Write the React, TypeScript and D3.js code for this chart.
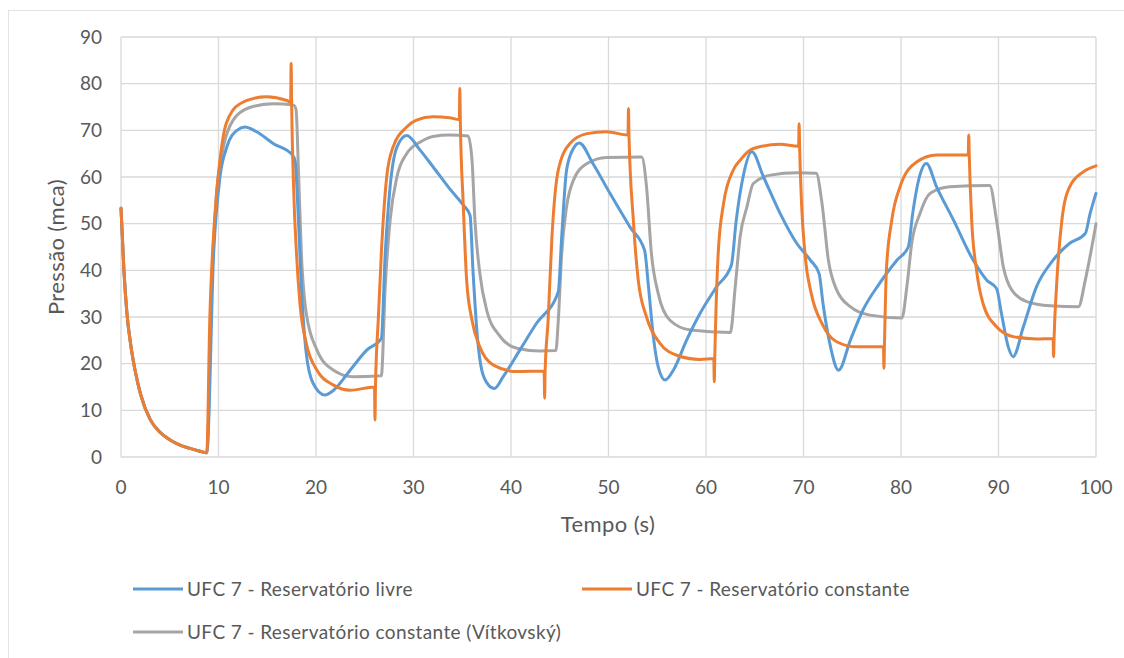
import * as d3 from 'd3';

// shared initial decay (all three series coincide until ~8.8 s)
const decayT = [0, 0.3, 0.6, 1.0, 1.5, 2, 3, 4, 5, 6, 7, 8, 8.8];
const decayP = [53.3, 40, 31, 24, 18, 13.5, 8, 5.3, 3.7, 2.6, 1.9, 1.3, 0.9];

const livreT = [9.5, 10.15, 10.85, 11.9, 12.7, 13.9, 15.6, 17.6, 17.85, 18.2, 18.5, 19.0, 19.7, 20.9, 21.8, 23.5, 25.2, 26.7, 27.1, 27.6, 28.3, 29.3, 30.7, 32, 33.7, 35.1, 35.8, 36.1, 36.55, 37, 37.7, 38.3, 39.2, 40.9, 42.6, 44.85, 45.2, 45.7, 46.4, 47, 48.4, 50.15, 52.2, 53.7, 54.1, 54.6, 55.1, 55.8, 56.65, 58, 59.4, 61.1, 62.6, 63.1, 63.8, 64.7, 65.9, 67.6, 69.3, 70.7, 71.6, 72.0, 72.7, 73.6, 74.8, 76.1, 77.8, 79.6, 80.75, 81.2, 81.8, 82.6, 83.65, 85.4, 87.4, 88.8, 89.8, 90.3, 91.0, 91.5, 92.55, 93.9, 95.6, 97.3, 98.9, 99.4, 100];
const livreP = [43.6, 60, 66.4, 70, 70.7, 69.7, 67.2, 64.7, 63.5, 50.7, 36.5, 22.2, 15.8, 13.3, 14.3, 18.6, 22.9, 25.4, 43.6, 57.9, 66.4, 68.9, 65.7, 62.2, 57.5, 54, 51.8, 40, 25.8, 18.6, 15.4, 14.7, 17.2, 22.9, 28.6, 35.4, 47.2, 61.5, 66.1, 67.3, 62.9, 56.5, 49.3, 44.3, 36.5, 25.8, 19.3, 16.5, 18.6, 25, 30.8, 36.5, 41.1, 50.7, 60, 65.4, 60, 52.2, 45.8, 42.2, 39.3, 32.9, 24.3, 18.6, 25, 31.5, 37.2, 42.2, 45, 52.2, 59.3, 62.9, 57.9, 50.7, 42.2, 37.9, 36.1, 30.8, 23.6, 21.5, 27.9, 36.5, 42.2, 45.8, 47.9, 52.2, 56.5];

const constT = [9.1, 9.6, 10.15, 10.8, 12.2, 14.9, 17.0, 17.4, 17.45, 17.5, 17.7, 18.0, 18.35, 19.0, 20.1, 21.8, 23.5, 26.0, 26.05, 26.1, 26.4, 26.7, 27.25, 27.9, 29.3, 30.3, 32, 33.7, 34.7, 34.75, 34.8, 35.1, 35.45, 36, 36.8, 38.2, 40.6, 43.4, 43.45, 43.5, 43.8, 44.2, 44.85, 46.05, 47.8, 49.8, 52.0, 52.05, 52.1, 52.55, 53.05, 53.9, 55.3, 57, 59.4, 60.8, 60.85, 60.9, 61.25, 61.8, 62.8, 63.5, 64.85, 67.6, 69.5, 69.55, 69.6, 69.8, 70.15, 70.8, 71.9, 73.4, 75.45, 78.2, 78.25, 78.3, 78.5, 79.05, 79.9, 81.6, 83.65, 86.9, 86.95, 87.0, 87.25, 87.75, 88.4, 89.8, 91.5, 93.9, 95.6, 95.65, 95.7, 95.95, 96.5, 97.3, 98.7, 100];
const constP = [29, 51, 63.6, 71.5, 75.7, 77.2, 76.4, 76, 84.3, 76, 57.9, 43.6, 33, 24.4, 18.6, 15.4, 14.3, 15, 7.9, 15, 30, 43.6, 60, 66.4, 70.7, 72.2, 72.9, 72.7, 72.3, 79, 72.3, 54.3, 37.9, 29.3, 23.6, 19.7, 18.3, 18.4, 12.6, 18.4, 29, 47.2, 61.5, 67.2, 69.3, 69.7, 69, 74.7, 69, 50.7, 37.9, 30, 24.3, 21.8, 20.9, 21.1, 16.1, 21.1, 43.6, 54.3, 61.5, 63.6, 66.1, 67, 66.6, 71.4, 66.6, 54.3, 43.6, 35, 28.6, 24.7, 23.6, 23.7, 19, 23.7, 40, 50.7, 57.9, 63.2, 64.7, 64.7, 69, 64.7, 50.7, 40, 33, 27.9, 25.8, 25.3, 25.4, 21.5, 25.4, 36.5, 50.7, 57.9, 61.1, 62.4];

const vitkT = [9.3, 9.8, 10.5, 11.5, 13.2, 15.6, 17.7, 17.95, 18.2, 18.5, 19.0, 20.1, 21.8, 23.8, 26.7, 27.1, 27.6, 28.3, 29.3, 30.7, 32, 33.7, 35.6, 36, 36.3, 36.8, 37.5, 38.9, 40.6, 43, 44.6, 44.85, 45.2, 45.7, 46.4, 47.8, 49.8, 53.4, 53.9, 54.4, 55.1, 56.3, 58.4, 62.5, 63, 63.5, 64.2, 64.85, 66.6, 69.3, 71.3, 71.9, 72.55, 73.4, 74.8, 76.8, 80.1, 80.6, 81.1, 81.95, 83, 85, 89.1, 89.8, 90.5, 91.35, 92.9, 95.3, 98.2, 98.9, 100];
const vitkP = [36.5, 56.5, 66.4, 72.2, 74.9, 75.7, 75.4, 74.5, 61.5, 43.6, 30.8, 22.9, 18.6, 17.2, 17.4, 36.5, 50.7, 60, 65, 67.5, 68.7, 69, 68.8, 63.6, 50.7, 39.4, 31.5, 25.8, 23.3, 22.7, 22.8, 29.3, 43.6, 53.6, 59.3, 62.9, 64.2, 64.3, 57.9, 43.6, 35, 29.3, 27.2, 26.7, 36.5, 47.2, 53.6, 58.6, 60.4, 60.9, 60.8, 54.3, 42.2, 35.8, 32.2, 30.4, 29.8, 36.5, 45.8, 52.2, 56.5, 57.9, 58.2, 50.7, 40.7, 35.8, 33.3, 32.4, 32.2, 37.9, 50];

const seriesNames = [
  'UFC 7 - Reservatório livre',
  'UFC 7 - Reservatório constante',
  'UFC 7 - Reservatório constante (Vítkovský)',
];
const seriesColors = ['#5B9BD5', '#ED7D31', '#A5A5A5'];
const xTicks = [0, 10, 20, 30, 40, 50, 60, 70, 80, 90, 100];
const yTicks = [0, 10, 20, 30, 40, 50, 60, 70, 80, 90];

const W = 1124;
const H = 658;
const plot = { left: 121, right: 1096, top: 37, bottom: 457 };
const font = 'Lato, "Open Sans", sans-serif';
const textColor = '#595959';

function build(ts: number[], ps: number[]) {
  return decayT.map((t, i) => [t, decayP[i]] as [number, number])
    .concat(ts.map((t, i) => [t, ps[i]] as [number, number]));
}

export default function App() {
  const x = d3.scaleLinear().domain([0, 100]).range([plot.left, plot.right]);
  const y = d3.scaleLinear().domain([0, 90]).range([plot.bottom, plot.top]);
  const line = d3.line<[number, number]>()
    .x(d => x(d[0]))
    .y(d => y(d[1]))
    .curve(d3.curveMonotoneX);

  const data = [build(livreT, livreP), build(constT, constP), build(vitkT, vitkP)];
  const legendPos = [
    { x: 133, y: 589 },
    { x: 582, y: 589 },
    { x: 133, y: 632 },
  ];

  return (
    <div style={{ position: 'absolute', left: 0, top: 0 }}>
      <svg width={W} height={H} style={{ display: 'block', background: '#fff' }}>
        <rect x={8.5} y={10.5} width={W + 10} height={H + 10} fill="#fff" stroke="#e3e3e3" strokeWidth={1} />
        {yTicks.map(t => (
          <line key={'gy' + t} x1={plot.left} x2={plot.right} y1={y(t)} y2={y(t)} stroke="#d9d9d9" strokeWidth={1.3} />
        ))}
        {xTicks.map(t => (
          <line key={'gx' + t} x1={x(t)} x2={x(t)} y1={plot.top} y2={plot.bottom} stroke="#d9d9d9" strokeWidth={1.3} />
        ))}
        {yTicks.map(t => (
          <text key={'ty' + t} x={plot.left - 19} y={y(t)} dy="0.35em" textAnchor="end"
            fontFamily={font} fontSize={19} fill={textColor}>{t}</text>
        ))}
        {xTicks.map(t => (
          <text key={'tx' + t} x={x(t)} y={487} dy="0.35em" textAnchor="middle"
            fontFamily={font} fontSize={19} fill={textColor}>{t}</text>
        ))}
        <text x={608} y={524} dy="0.35em" textAnchor="middle" fontFamily={font} fontSize={22}
          letterSpacing={0.4} fill={textColor}>Tempo (s)</text>
        <text transform={`translate(56,${(plot.top + plot.bottom) / 2}) rotate(-90)`} dy="0.35em" textAnchor="middle"
          fontFamily={font} fontSize={22} letterSpacing={0.4} fill={textColor}>Pressão (mca)</text>
        {[2, 0, 1].map(i => (
          <path key={'s' + i} d={line(data[i]) || ''} fill="none" stroke={seriesColors[i]} strokeWidth={3}
            strokeLinejoin="round" strokeLinecap="round" />
        ))}
        {seriesNames.map((name, i) => (
          <g key={'lg' + i} transform={`translate(${legendPos[i].x},${legendPos[i].y})`}>
            <line x1={0} x2={50} y1={0} y2={0} stroke={seriesColors[i]} strokeWidth={3} />
            <text x={54} y={0} dy="0.35em" fontFamily={font} fontSize={19} letterSpacing={0.4}
              fill={textColor}>{name}</text>
          </g>
        ))}
      </svg>
    </div>
  );
}
